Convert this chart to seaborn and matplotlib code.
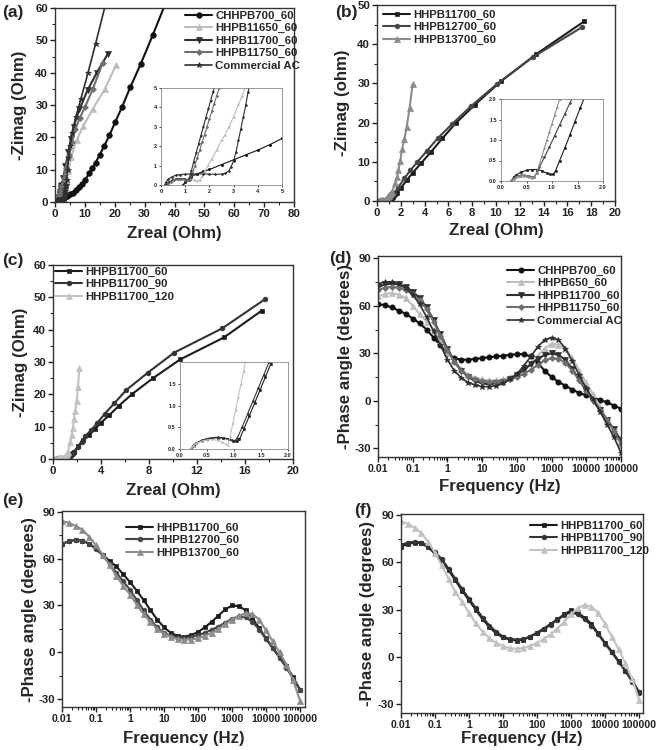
import matplotlib
matplotlib.use("Agg")
import matplotlib.pyplot as plt
import seaborn as sns
from matplotlib.ticker import FuncFormatter, AutoMinorLocator, FixedLocator, LogLocator, NullFormatter

sns.set_theme(style="ticks")
plt.rcParams['font.family'] = ['Liberation Sans', 'DejaVu Sans']
plt.rcParams['font.weight'] = 'bold'
plt.rcParams['axes.labelweight'] = 'bold'
plt.rcParams['axes.unicode_minus'] = False

# ---------------- Panel (a) Nyquist ----------------
a_700_x = [0.9, 1.0, 1.1, 1.25, 1.5, 1.75, 2.0, 2.5, 3.0, 3.5, 4.0, 4.5, 5.0, 6.0, 7.0, 8.0, 9.0, 10.0, 11.5, 12.5, 13.6, 14.9, 16.4, 18.2, 20.1, 22.4, 25.2, 28.7, 32.8, 36.8]
a_700_y = [0.0, 0.15, 0.28, 0.43, 0.58, 0.7, 0.8, 1.05, 1.3, 1.55, 1.8, 2.08, 2.4, 2.9, 3.6, 4.5, 5.7, 6.8, 8.9, 10.5, 12.2, 14.5, 17.2, 20.6, 24.6, 29.3, 35.5, 42.7, 51.8, 61.0]
a_650_x = [0.2, 0.3, 0.45, 0.6, 0.8, 1.0, 1.2, 1.35, 1.5, 1.6, 1.7, 1.8, 1.95, 2.1, 2.3, 2.5, 2.65, 2.8, 3.0, 3.2, 3.35, 3.5, 3.9, 4.5, 5.4, 7.3, 9.5, 12.6, 16.6, 20.5]
a_650_y = [0.0, 0.15, 0.25, 0.3, 0.32, 0.32, 0.3, 0.26, 0.22, 0.25, 0.45, 0.7, 1.03, 1.35, 1.8, 2.3, 2.6, 3.0, 3.5, 4.15, 4.6, 5.05, 6.5, 9.5, 14.0, 19.2, 23.5, 28.7, 34.8, 42.5]
a_11700_x = [0.25, 0.35, 0.5, 0.65, 0.8, 0.95, 1.05, 1.15, 1.25, 1.35, 1.45, 1.55, 1.65, 1.75, 1.85, 1.95, 2.05, 2.15, 2.25, 2.8, 3.5, 4.5, 5.3, 6.2, 8.2, 10.9, 14.0, 17.6]
a_11700_y = [0.0, 0.15, 0.28, 0.33, 0.33, 0.3, 0.25, 0.3, 0.7, 1.2, 1.65, 2.1, 2.55, 3.0, 3.45, 3.9, 4.35, 4.8, 5.25, 7.5, 11.0, 15.5, 19.5, 23.3, 28.7, 34.6, 40.0, 45.7]
a_11750_x = [0.3, 0.4, 0.55, 0.7, 0.85, 1.0, 1.1, 1.2, 1.3, 1.4, 1.5, 1.6, 1.7, 1.8, 1.9, 2.0, 2.1, 2.2, 2.3, 2.4, 2.5, 2.9, 3.6, 4.6, 5.6, 6.8, 8.3, 10.1, 12.6, 15.9]
a_11750_y = [0.0, 0.15, 0.27, 0.3, 0.3, 0.27, 0.24, 0.28, 0.6, 1.0, 1.4, 1.8, 2.2, 2.6, 3.0, 3.4, 3.8, 4.2, 4.6, 5.0, 5.4, 7.3, 10.5, 14.5, 18.5, 22.5, 26.0, 29.5, 34.8, 42.9]
a_ac_x = [0.15, 0.2, 0.3, 0.45, 0.6, 0.8, 1.0, 1.25, 1.5, 1.75, 2.0, 2.25, 2.5, 2.65, 2.8, 2.9, 3.0, 3.1, 3.2, 3.3, 3.4, 3.5, 3.6, 3.7, 3.9, 4.2, 4.5, 5.0, 5.8, 7.0, 8.7, 11.0, 13.6, 17.0]
a_ac_y = [0.0, 0.15, 0.3, 0.42, 0.5, 0.54, 0.56, 0.57, 0.57, 0.57, 0.56, 0.55, 0.56, 0.6, 0.72, 0.95, 1.25, 1.7, 2.3, 2.9, 3.5, 4.1, 4.8, 5.4, 6.8, 10.0, 13.5, 17.2, 21.3, 26.4, 32.0, 39.8, 49.0, 61.5]

# ---------------- Panel (b) Nyquist ----------------
b_11700_x = [0.2, 0.25, 0.3, 0.4, 0.5, 0.6, 0.7, 0.8, 0.9, 0.97, 1.02, 1.07, 1.15, 1.25, 1.35, 1.45, 1.55, 1.65, 2.0, 2.5, 3.0, 3.7, 4.5, 5.5, 6.6, 8.2, 10.4, 13.4, 17.4]
b_11700_y = [0.0, 0.1, 0.15, 0.22, 0.26, 0.28, 0.28, 0.25, 0.19, 0.16, 0.16, 0.25, 0.5, 0.8, 1.12, 1.45, 1.77, 2.08, 3.3, 5.3, 7.2, 9.6, 12.4, 16.0, 19.8, 24.5, 30.5, 37.5, 45.8]
b_12700_x = [0.2, 0.25, 0.3, 0.35, 0.4, 0.45, 0.5, 0.55, 0.6, 0.65, 0.7, 0.75, 0.85, 0.95, 1.05, 1.15, 1.25, 1.35, 1.45, 1.8, 2.3, 2.8, 3.4, 4.2, 5.1, 6.3, 7.9, 10.1, 13.1, 17.2]
b_12700_y = [0.0, 0.07, 0.11, 0.13, 0.14, 0.14, 0.13, 0.11, 0.09, 0.1, 0.2, 0.33, 0.58, 0.83, 1.1, 1.37, 1.63, 1.9, 2.15, 3.5, 5.8, 7.8, 10.0, 12.8, 16.0, 19.6, 24.2, 29.9, 36.7, 44.3]
b_13700_x = [0.2, 0.25, 0.3, 0.35, 0.4, 0.45, 0.5, 0.55, 0.6, 0.65, 0.7, 0.75, 0.8, 0.85, 0.9, 0.95, 1.0, 1.05, 1.1, 1.15, 1.26, 1.54, 1.7, 1.8, 1.96, 2.1, 2.3, 2.5, 2.74, 3.0]
b_13700_y = [0.0, 0.06, 0.1, 0.12, 0.13, 0.13, 0.12, 0.1, 0.08, 0.09, 0.2, 0.4, 0.6, 0.8, 1.0, 1.2, 1.4, 1.6, 1.8, 2.0, 2.4, 4.5, 6.2, 7.9, 10.3, 13.2, 15.7, 19.0, 23.8, 29.8]

# ---------------- Panel (c) Nyquist ----------------
c_60_x = [0.2, 0.25, 0.3, 0.4, 0.5, 0.6, 0.7, 0.8, 0.9, 0.98, 1.05, 1.1, 1.18, 1.28, 1.38, 1.48, 1.58, 1.68, 1.78, 2.1, 2.5, 3.0, 3.5, 4.0, 4.7, 5.5, 6.6, 8.3, 10.6, 14.25, 17.4]
c_60_y = [0.0, 0.08, 0.13, 0.19, 0.23, 0.25, 0.26, 0.25, 0.22, 0.19, 0.18, 0.22, 0.45, 0.75, 1.05, 1.35, 1.65, 1.95, 2.25, 3.9, 5.9, 7.4, 9.3, 11.2, 13.6, 16.5, 20.1, 24.9, 30.8, 37.6, 45.9]
c_90_x = [0.2, 0.25, 0.3, 0.4, 0.5, 0.6, 0.7, 0.8, 0.9, 0.96, 1.01, 1.06, 1.15, 1.25, 1.35, 1.45, 1.55, 1.65, 1.75, 2.1, 2.4, 2.7, 3.2, 3.7, 4.3, 5.1, 6.1, 7.9, 10.1, 14.1, 17.7]
c_90_y = [0.0, 0.09, 0.14, 0.2, 0.24, 0.26, 0.27, 0.26, 0.23, 0.2, 0.19, 0.25, 0.5, 0.8, 1.1, 1.4, 1.7, 2.0, 2.3, 3.8, 5.4, 7.1, 9.0, 11.2, 13.9, 17.2, 21.3, 26.7, 32.9, 40.4, 49.5]
c_120_x = [0.2, 0.25, 0.3, 0.4, 0.5, 0.6, 0.7, 0.78, 0.85, 0.89, 0.93, 0.98, 1.03, 1.08, 1.13, 1.18, 1.23, 1.45, 1.55, 1.65, 1.75, 1.85, 1.97, 2.08, 2.2]
c_120_y = [0.0, 0.08, 0.13, 0.18, 0.21, 0.22, 0.2, 0.16, 0.11, 0.1, 0.3, 0.6, 0.9, 1.2, 1.5, 1.8, 2.1, 5.4, 7.4, 9.5, 12.3, 14.8, 17.9, 22.4, 28.2]

# ---------------- Bode phase data ----------------
freq = [0.01, 0.0158, 0.0251, 0.0398, 0.0631, 0.1, 0.158, 0.251, 0.398, 0.631,
        1, 1.58, 2.51, 3.98, 6.31, 10, 15.8, 25.1, 39.8, 63.1,
        100, 158, 251, 398, 631, 1000, 1580, 2510, 3980, 6310,
        10000, 15800, 25100, 39800, 63100, 100000]
freq_ticks = [0.01, 0.1, 1, 10, 100, 1000, 10000, 100000]

d_700 = [61, 60.5, 59, 57, 55, 52, 49, 45, 40, 35, 30, 27, 26, 26, 26.5, 27, 27.5, 28, 28.5, 29,
         29.5, 29.5, 28, 24, 19, 15, 12, 9.5, 7, 5, 3.5, 2, 0.5, -1, -3, -5]
d_650 = [66, 67.5, 68, 67, 65, 60, 55, 50, 45, 38, 31, 25, 20, 16.5, 14.5, 13.5, 13, 13, 13.5, 15,
         17, 20, 24, 28.5, 33, 36, 35.5, 33, 27, 19, 11, 4, -4, -12, -20, -28]
d_11700 = [72, 73.5, 74, 73.5, 72, 69, 65, 59, 51, 42, 33, 25, 19, 15, 12.5, 11, 10.5, 11, 12, 14,
           16.5, 19.5, 23, 26.5, 29, 30, 29, 26, 20, 13, 6, 0, -6, -12, -18, -25]
d_11750 = [70, 71.5, 72, 71.5, 70, 67.5, 63.5, 58, 50, 41, 32, 24.5, 19, 15.5, 13.5, 12.5, 12, 12, 12.5, 13.5,
           15, 17, 19.5, 22.5, 25.5, 27, 26.5, 24, 19, 13, 6.5, 0.5, -5.5, -12, -19, -27]
d_ac = [74, 75, 75, 74, 71, 67, 61, 53, 44, 35, 26, 19, 14.5, 11.5, 10, 9, 9, 9.5, 11, 13.5,
        17, 22, 28, 34, 38.5, 40, 38.5, 33, 25, 16, 8, 1, -7, -15, -23, -33]

e_11700 = [69.5, 71, 72, 71.5, 69.5, 66.5, 62.5, 58.5, 55, 50, 45, 39.5, 33.5, 27, 21, 16, 12.5, 10.5, 10, 11,
           13, 16, 19.5, 23.5, 27.5, 30, 29.5, 27, 22, 15.5, 9, 3, -3, -9, -16, -24]
e_12700 = [69.5, 71, 72, 71.5, 69.5, 66, 62, 56.5, 51, 45.5, 40, 33.5, 27, 21, 16, 12.5, 10.5, 9.5, 9.3, 10,
           11, 12.5, 14.5, 16.5, 19, 21.5, 23, 22.5, 19.5, 14.5, 8.5, 2.5, -3.5, -10, -17, -24]
e_13700 = [84, 83, 81, 78.5, 74, 68.5, 62.5, 56, 49, 42.5, 37, 30.5, 24.5, 19.5, 15, 12, 10, 8.5, 8, 8.2,
           9, 10.5, 12.5, 15, 18, 21, 23.5, 25, 24.5, 21, 14, 7, 0, -8, -18, -31]

f_60 = [70, 71.5, 72.5, 72, 69.5, 65.5, 61, 55, 48.5, 42, 36, 30, 24, 19, 15, 12.5, 11, 10.5, 11, 13,
        15.5, 18, 21, 24, 27, 29.5, 28, 25, 21, 15, 9, 3.5, -2.5, -8.5, -15, -22]
f_90 = [71, 72.5, 73, 72.5, 70.5, 66.5, 62, 56, 49.5, 43, 37, 31, 25, 20, 16, 13, 11.5, 11, 11.5, 13,
        15, 17.5, 20.5, 23.5, 26.5, 28.5, 27, 24, 20, 14.5, 8.5, 3, -3, -9, -15.5, -23]
f_120 = [86, 84.5, 82, 78.5, 73, 66, 58, 49.5, 41, 35, 28, 21.5, 16, 12, 9, 7, 5.5, 5.3, 5.8, 7,
         9, 11.5, 14.5, 18, 22.5, 27, 31, 33, 32, 28, 21, 13, 5, -4, -14, -27]

FIG_W, FIG_H = 661, 750
fig = plt.figure(figsize=(FIG_W / 100, FIG_H / 100), dpi=100)


def rect(l, t, r, b):
    return [l / FIG_W, 1 - b / FIG_H, (r - l) / FIG_W, (b - t) / FIG_H]


TICK_FS = 8.2
LAB_FS = 12.2
LEG_FS = 8.2
LW = 1.5


def style_axes(ax, fs=TICK_FS, major=3.5, minor=2.0, lw=1.0):
    for s in ax.spines.values():
        s.set_linewidth(lw)
        s.set_color('#333333')
    ax.tick_params(axis='both', which='major', direction='out', length=major, width=lw,
                   labelsize=fs, colors='#222222', pad=1.5)
    ax.tick_params(axis='both', which='minor', direction='out', length=minor, width=lw * 0.8)
    for lab in ax.get_xticklabels() + ax.get_yticklabels():
        lab.set_fontweight('bold')


def draw(ax, x, y, color, marker, ms, lw=LW, label=None):
    sns.lineplot(x=x, y=y, ax=ax, color=color, marker=marker, markersize=ms,
                 markeredgecolor=color, markeredgewidth=0.5, linewidth=lw,
                 sort=False, estimator=None, legend=False, label=label)


def legend(ax, fx, fy):
    ax.legend(loc='upper left', bbox_to_anchor=(fx / FIG_W, 1 - fy / FIG_H),
              bbox_transform=fig.transFigure, frameon=False,
              prop={'weight': 'bold', 'size': LEG_FS}, handlelength=2.4,
              handletextpad=0.25, labelspacing=0.2, borderpad=0, borderaxespad=0,
              numpoints=1)


def labels(ax, xl, yl, xpad, ypad):
    ax.set_xlabel(xl, fontsize=LAB_FS, fontweight='bold', labelpad=xpad)
    ax.set_ylabel(yl, fontsize=LAB_FS, fontweight='bold', labelpad=ypad)


def inset_style(ins):
    ins.set_xlabel('')
    ins.set_ylabel('')
    style_axes(ins, fs=4, major=1.5, minor=1, lw=0.6)
    for s in ins.spines.values():
        s.set_color('#888888')


BLACK = '#111111'
DARK = '#2e2e2e'
MID = '#6e6e6e'
LIGHT = '#bdbdbd'

# ---- (a)
ax = fig.add_axes(rect(55, 8, 294, 202))
draw(ax, a_700_x, a_700_y, BLACK, 'o', 4.0, label='CHHPB700_60')
draw(ax, a_650_x, a_650_y, LIGHT, '^', 4.0, label='HHPB11650_60')
draw(ax, a_11700_x, a_11700_y, DARK, 'v', 4.0, label='HHPB11700_60')
draw(ax, a_11750_x, a_11750_y, MID, 'D', 3.0, label='HHPB11750_60')
draw(ax, a_ac_x, a_ac_y, DARK, '*', 4.0, lw=1.2, label='Commercial AC')
ax.set_xlim(0, 80)
ax.set_ylim(0, 60)
ax.set_xticks(range(0, 81, 10))
ax.set_yticks(range(0, 61, 10))
ax.yaxis.set_minor_locator(AutoMinorLocator(2))
ax.xaxis.set_minor_locator(AutoMinorLocator(2))
labels(ax, 'Zreal (Ohm)', '-Zimag (Ohm)', 5, 6)
style_axes(ax)
legend(ax, 185, 11)

ins = fig.add_axes(rect(161, 88, 282, 185))
draw(ins, a_700_x, a_700_y, BLACK, 'o', 1.6, lw=0.8)
draw(ins, a_650_x, a_650_y, LIGHT, '^', 1.4, lw=0.8)
draw(ins, a_11700_x, a_11700_y, DARK, 'v', 1.4, lw=0.8)
draw(ins, a_11750_x, a_11750_y, MID, 'D', 1.2, lw=0.8)
draw(ins, a_ac_x, a_ac_y, DARK, '*', 1.6, lw=0.8)
ins.set_xlim(0, 5)
ins.set_ylim(0, 5)
ins.set_xticks(range(0, 6))
ins.set_yticks(range(0, 6))
inset_style(ins)

# ---- (b)
ax = fig.add_axes(rect(377, 5, 615, 201))
draw(ax, b_11700_x, b_11700_y, '#1c1c1c', 's', 3.4, label='HHPB11700_60')
draw(ax, b_12700_x, b_12700_y, '#454545', 'o', 3.4, label='HHPB12700_60')
draw(ax, b_13700_x, b_13700_y, '#8c8c8c', '^', 4.0, label='HHPB13700_60')
ax.set_xlim(0, 20)
ax.set_ylim(0, 50)
ax.set_xticks(range(0, 21, 2))
ax.set_yticks(range(0, 51, 10))
ax.yaxis.set_minor_locator(AutoMinorLocator(2))
ax.xaxis.set_minor_locator(AutoMinorLocator(2))
labels(ax, 'Zreal (Ohm)', '-Zimag (ohm)', 4, 5)
style_axes(ax)
legend(ax, 383, 10)

ins = fig.add_axes(rect(501, 99, 603, 181))
draw(ins, b_11700_x, b_11700_y, '#1c1c1c', 's', 1.3, lw=0.8)
draw(ins, b_12700_x, b_12700_y, '#454545', 'o', 1.3, lw=0.8)
draw(ins, b_13700_x, b_13700_y, '#8c8c8c', '^', 1.3, lw=0.8)
ins.set_xlim(0, 2)
ins.set_ylim(0, 2)
ins.set_xticks([0, 0.5, 1.0, 1.5, 2.0])
ins.set_yticks([0, 0.5, 1.0, 1.5, 2.0])
ins.xaxis.set_major_formatter(FuncFormatter(lambda v, p: '%.1f' % v))
ins.yaxis.set_major_formatter(FuncFormatter(lambda v, p: '%.1f' % v))
inset_style(ins)

# ---- (c)
ax = fig.add_axes(rect(53, 265, 293, 459))
draw(ax, c_60_x, c_60_y, '#1c1c1c', 's', 3.4, label='HHPB11700_60')
draw(ax, c_90_x, c_90_y, '#333333', 'o', 3.4, label='HHPB11700_90')
draw(ax, c_120_x, c_120_y, '#c2c2c2', '^', 4.0, label='HHPB11700_120')
ax.set_xlim(0, 20)
ax.set_ylim(0, 60)
ax.set_xticks(range(0, 21, 4))
ax.set_yticks(range(0, 61, 10))
ax.yaxis.set_minor_locator(AutoMinorLocator(2))
ax.xaxis.set_minor_locator(AutoMinorLocator(2))
labels(ax, 'Zreal (Ohm)', '-Zimag (Ohm)', 5, 4)
style_axes(ax)
legend(ax, 55, 267)

ins = fig.add_axes(rect(180, 362, 288, 449))
draw(ins, c_60_x, c_60_y, '#1c1c1c', 's', 1.3, lw=0.8)
draw(ins, c_90_x, c_90_y, '#333333', 'o', 1.3, lw=0.8)
draw(ins, c_120_x, c_120_y, '#c2c2c2', '^', 1.3, lw=0.8)
ins.set_xlim(0, 2)
ins.set_ylim(0, 2)
ins.set_xticks([0, 0.5, 1.0, 1.5, 2.0])
ins.set_yticks([0, 0.5, 1.0, 1.5])
ins.xaxis.set_major_formatter(FuncFormatter(lambda v, p: '%.1f' % v))
ins.yaxis.set_major_formatter(FuncFormatter(lambda v, p: '%.1f' % v))
inset_style(ins)


def phase_axes(ax, xmax, ymin, ymax, xpad, ypad):
    ax.set_xscale('log')
    ax.set_xlim(0.01, xmax)
    ax.set_ylim(ymin, ymax)
    ax.xaxis.set_major_locator(FixedLocator(freq_ticks))
    ax.xaxis.set_major_formatter(FuncFormatter(lambda v, p: '%g' % v))
    ax.xaxis.set_minor_locator(LogLocator(base=10, subs=range(2, 10), numticks=20))
    ax.xaxis.set_minor_formatter(NullFormatter())
    ax.set_yticks([-30, 0, 30, 60, 90])
    ax.yaxis.set_minor_locator(AutoMinorLocator(2))
    labels(ax, 'Frequency (Hz)', '-Phase angle (degrees)', xpad, ypad)
    style_axes(ax)
    ax.tick_params(axis='x', which='major', labelsize=7.6)


# ---- (d)
ax = fig.add_axes(rect(378, 256, 621, 457))
draw(ax, freq, d_700, BLACK, 'o', 3.8, label='CHHPB700_60')
draw(ax, freq, d_650, LIGHT, '^', 3.8, label='HHPB650_60')
draw(ax, freq, d_11700, DARK, 'v', 3.8, label='HHPB11700_60')
draw(ax, freq, d_11750, MID, 'D', 3.0, label='HHPB11750_60')
draw(ax, freq, d_ac, DARK, '*', 4.0, lw=1.2, label='Commercial AC')
phase_axes(ax, 100000, -35.5, 91.5, 4, 1)
legend(ax, 507, 266)

# ---- (e)
ax = fig.add_axes(rect(62, 511, 305, 707))
draw(ax, freq, e_11700, '#1c1c1c', 's', 3.4, label='HHPB11700_60')
draw(ax, freq, e_12700, '#454545', 'o', 3.4, label='HHPB12700_60')
draw(ax, freq, e_13700, '#8c8c8c', '^', 4.0, label='HHPB13700_60')
phase_axes(ax, 140000, -35, 90.5, 5, 1)
legend(ax, 126, 523)

# ---- (f)
ax = fig.add_axes(rect(401, 514, 643, 713))
draw(ax, freq, f_60, '#1c1c1c', 's', 3.4, label='HHPB11700_60')
draw(ax, freq, f_90, '#333333', 'o', 3.4, label='HHPB11700_90')
draw(ax, freq, f_120, '#c2c2c2', '^', 4.0, label='HHPB11700_120')
phase_axes(ax, 131000, -35.4, 90.6, 1, 2)
legend(ax, 530, 521)

# panel labels
for lab, px, py in [('(a)', 2, 12), ('(b)', 335, 13), ('(c)', 2, 261), ('(d)', 329, 258),
                    ('(e)', 2, 500), ('(f)', 354, 511)]:
    fig.text(px / FIG_W, 1 - py / FIG_H, lab, fontsize=12.5, fontweight='bold',
             ha='left', va='center')

fig.savefig('out.png', dpi=100)
